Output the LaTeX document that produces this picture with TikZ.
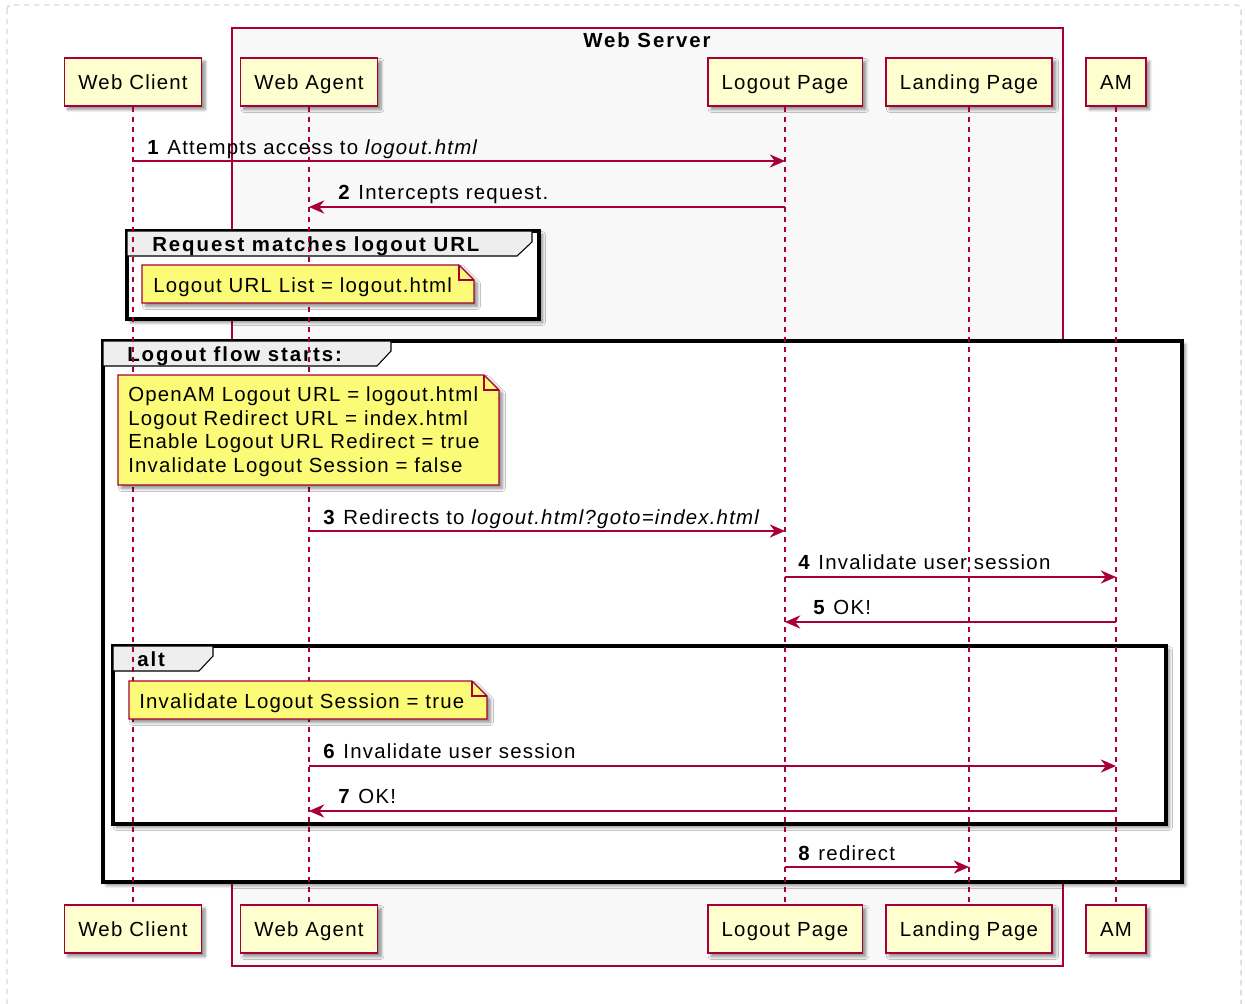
\documentclass[tikz,border=0pt]{standalone}
\usepackage{fontspec}
\setmainfont{Liberation Sans}[LetterSpace=6,BoldFeatures={LetterSpace=9.5}]
\usetikzlibrary{arrows.meta,shadows.blur}
\definecolor{umlred}{HTML}{A80036}
\definecolor{partfill}{HTML}{FEFECE}
\definecolor{notefill}{HTML}{FBFB77}
\definecolor{boxfill}{HTML}{F8F8F8}
\definecolor{tabfill}{HTML}{EEEEEE}

\tikzset{
  umlshadow/.style={blur shadow={shadow xshift=2.6pt,shadow yshift=-2.6pt,shadow blur steps=6,shadow blur radius=2.2pt,shadow opacity=45}},
  part/.style={draw=umlred,line width=1.3pt,fill=partfill,minimum height=36pt,inner xsep=10.5pt,
    text height=13pt,text depth=2.5pt,umlshadow},
  life/.style={draw=umlred,line width=0.8pt,dash pattern=on 3.75pt off 3.75pt},
  msg/.style={draw=umlred,line width=0.95pt,-{Stealth[length=11.5pt,width=10pt,inset=3.8pt]}},
  lbl/.style={anchor=base west,inner sep=0pt},
  bold/.style={font=\fontsize{15.3}{18}\selectfont\bfseries},
  frame/.style={draw=black,line width=2.5pt,fill=white,umlshadow},
  tab/.style={draw=black,line width=0.8pt,fill=tabfill},
  note/.style={draw=umlred,line width=1pt,fill=notefill,umlshadow},
  fold/.style={draw=umlred,line width=1pt}
}

\begin{document}
\begin{tikzpicture}[x=0.75pt,y=-0.75pt,line join=miter,font=\fontsize{15.3}{18}\selectfont]
\useasboundingbox (0,0) rectangle (1245,1003);
% outer border
\draw[black!15,line width=1.1pt,dash pattern=on 4pt off 3.5pt,rounded corners=3pt] (7,5) rectangle (1241,1012);

% web server box
\draw[draw=umlred,fill=boxfill,line width=0.9pt] (232,28) rectangle (1063,966);
\node[bold,anchor=base,inner sep=0pt] (ws) at (647,47) {Web Server};

% participants
\node[part] (wc-top) at (133,82) {Web Client};
\node[part] (wa-top) at (309,82) {Web Agent};
\node[part] (lp-top) at (785,82) {Logout Page};
\node[part] (ld-top) at (969,82) {Landing Page};
\node[part] (am-top) at (1116,82) {AM};
\node[part] (wc-bot) at (133,929) {Web Client};
\node[part] (wa-bot) at (309,929) {Web Agent};
\node[part] (lp-bot) at (785,929) {Logout Page};
\node[part] (ld-bot) at (969,929) {Landing Page};
\node[part] (am-bot) at (1116,929) {AM};

% groups
\draw[frame] (127,231) rectangle (539,319);
\draw[tab] (127,231) -- (532,231) -- (532,242) -- (517,256) -- (127,256) -- cycle;
\node[lbl,bold] (g1) at (152,251) {Request matches logout URL};

\draw[frame] (103,341) rectangle (1182,882);
\draw[tab] (103,341) -- (391,341) -- (391,351) -- (377,366) -- (103,366) -- cycle;
\node[lbl,bold] (g2) at (127,361) {Logout flow starts:};

\draw[frame] (113,646) rectangle (1166,824);
\draw[tab] (113,646) -- (213,646) -- (213,656) -- (199,671) -- (113,671) -- cycle;
\node[lbl,bold] (g3) at (137,666) {alt};

% lifelines
\foreach \p in {wc,wa,lp,ld,am}
  \draw[life] (\p-top.south) -- (\p-bot.north);

% notes
\draw[note] (142,265) -- (459,265) -- (474,280) -- (474,303) -- (142,303) -- cycle;
\draw[fold] (459,265) -- (459,280) -- (474,280);
\node[lbl] (n1) at (153,292) {Logout URL List = logout.html};

\draw[note] (118,375) -- (484,375) -- (499,390) -- (499,485) -- (118,485) -- cycle;
\draw[fold] (484,375) -- (484,390) -- (499,390);
\node[lbl] (n2a) at (128,401) {OpenAM Logout URL = logout.html};
\node[lbl] (n2b) at (128,425) {Logout Redirect URL = index.html};
\node[lbl] (n2c) at (128,448) {Enable Logout URL Redirect = true};
\node[lbl] (n2d) at (128,472) {Invalidate Logout Session = false};

\draw[note] (129,681) -- (472,681) -- (487,696) -- (487,719) -- (129,719) -- cycle;
\draw[fold] (472,681) -- (472,696) -- (487,696);
\node[lbl] (n3) at (139,708) {Invalidate Logout Session = true};

% messages
\draw[msg] (wc-top.south |- 0,161) -- (lp-top.south |- 0,161);
\node[lbl] (t1) at (147,154) {\textbf{1} Attempts access to \textit{logout.html}};
\draw[msg] (lp-top.south |- 0,207) -- (wa-top.south |- 0,207);
\node[lbl] (t2) at (338,199) {\textbf{2} Intercepts request.};
\draw[msg] (wa-top.south |- 0,531) -- (lp-top.south |- 0,531);
\node[lbl] (t3) at (323,524) {\textbf{3} Redirects to \textit{logout.html?goto=index.html}};
\draw[msg] (lp-top.south |- 0,577) -- (am-top.south |- 0,577);
\node[lbl] (t4) at (798,569) {\textbf{4} Invalidate user session};
\draw[msg] (am-top.south |- 0,622) -- (lp-top.south |- 0,622);
\node[lbl] (t5) at (813,614) {\textbf{5} OK!};
\draw[msg] (wa-top.south |- 0,766) -- (am-top.south |- 0,766);
\node[lbl] (t6) at (323,758) {\textbf{6} Invalidate user session};
\draw[msg] (am-top.south |- 0,811) -- (wa-top.south |- 0,811);
\node[lbl] (t7) at (338,803) {\textbf{7} OK!};
\draw[msg] (lp-top.south |- 0,867) -- (ld-top.south |- 0,867);
\node[lbl] (t8) at (798,860) {\textbf{8} redirect};
\end{tikzpicture}
\end{document}
